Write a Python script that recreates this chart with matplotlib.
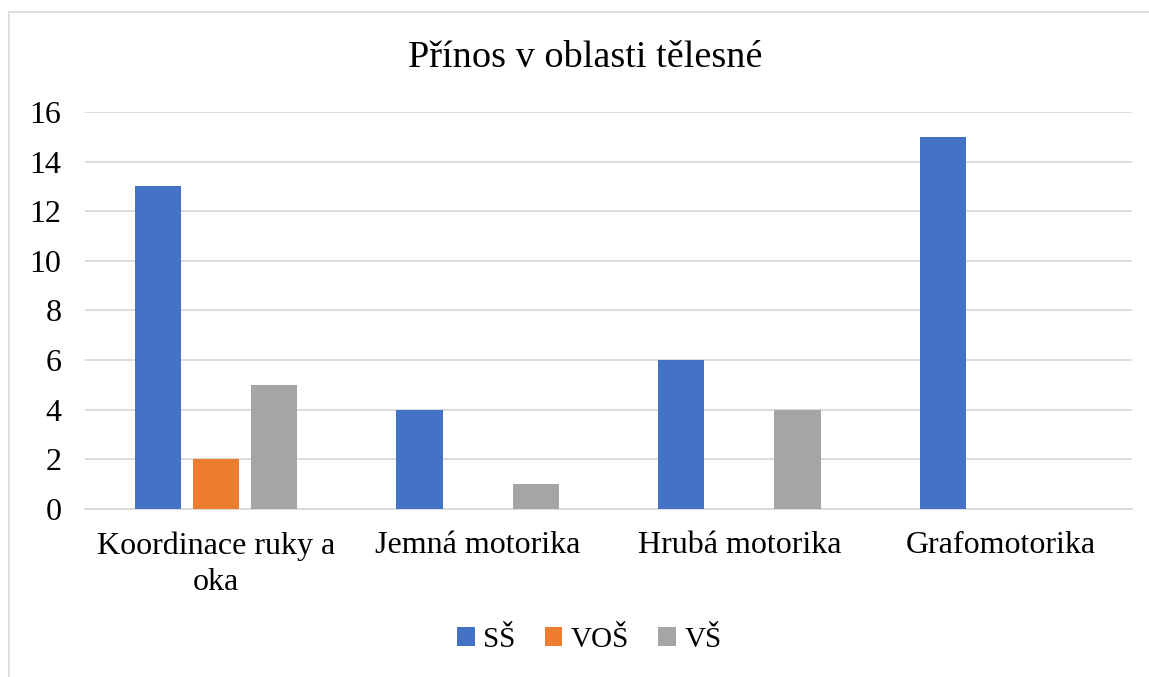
import matplotlib.pyplot as plt
import numpy as np
from matplotlib.patches import Rectangle

# Data
categories = ["Koordinace ruky a\noka", "Jemná motorika", "Hrubá motorika", "Grafomotorika"]
ss = [13, 4, 6, 15]
vos = [2, 0, 0, 0]
vs = [5, 1, 4, 0]
series_names = ["SŠ", "VOŠ", "VŠ"]
colors = ["#4472C4", "#ED7D31", "#A5A5A5"]

plt.rcParams['font.family'] = ['Liberation Serif', 'DejaVu Serif']

fig = plt.figure(figsize=(11.49, 6.77), dpi=100)
ax = fig.add_axes([85/1149, 1 - 509/677, (1132-85)/1149, (509-112)/677])

# chart border
fig.patches.append(Rectangle((9/1149, -0.1), 1.2, 1 - 12/677 + 0.1, transform=fig.transFigure,
                             fill=False, edgecolor='#D9D9D9', linewidth=1.2))

x = np.arange(len(categories))
w = 0.176
step = 0.222
for i, (vals, name, c) in enumerate(zip([ss, vos, vs], series_names, colors)):
    ax.bar(x + (i - 1) * step, vals, width=w, color=c, label=name, zorder=3)

ax.set_xlim(-0.5, len(categories) - 0.5)
ax.set_ylim(0, 16)
ax.set_yticks(range(0, 17, 2))
ax.yaxis.grid(True, color='#D9D9D9', linewidth=1.3, zorder=0)
ax.set_axisbelow(True)
for s in ['top', 'right', 'left']:
    ax.spines[s].set_visible(False)
ax.spines['bottom'].set_color('#D9D9D9')
ax.spines['bottom'].set_linewidth(1.3)
ax.tick_params(axis='both', length=0, labelsize=23)
ax.tick_params(axis='x', pad=16)
ax.tick_params(axis='y', pad=17)
ax.set_xticks(x)
ax.set_xticklabels(categories, fontsize=23, linespacing=1.35)

fig.text(585/1149, 1 - 58/677, "Přínos v oblasti tělesné", ha='center', va='center', fontsize=27.5)

fig.legend(loc='center', bbox_to_anchor=(0.513, 1 - 640/677), ncol=3, frameon=False,
           fontsize=21, handlelength=0.6, handleheight=0.6, handletextpad=0.3, columnspacing=1.0)

fig.savefig("out.png", dpi=100)
